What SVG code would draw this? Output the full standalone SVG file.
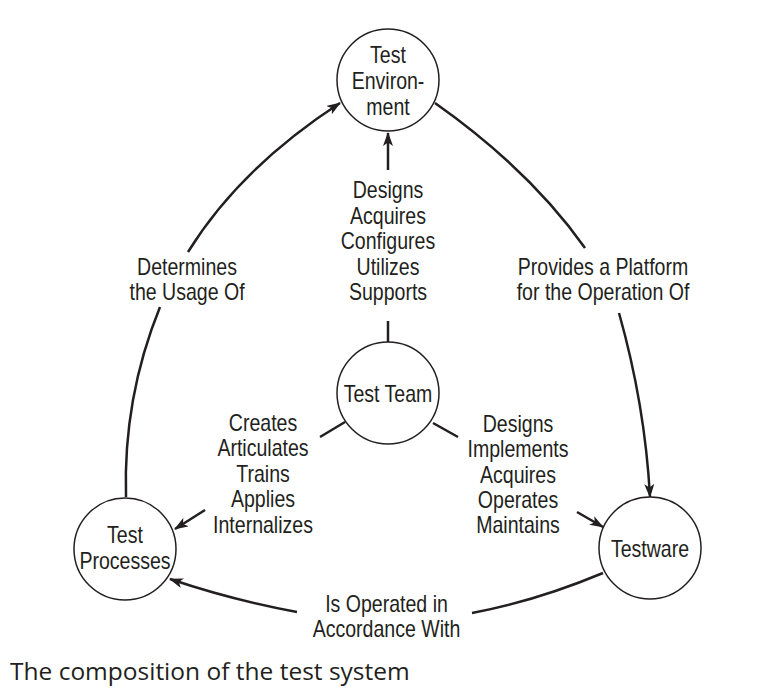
<svg xmlns="http://www.w3.org/2000/svg" width="771" height="690" viewBox="0 0 771 690">
<style>
.t{font-family:"Liberation Sans",Arial,sans-serif;font-size:23px;fill:#231f20;text-anchor:middle}
.n{fill:#fff;stroke:#231f20;stroke-width:1.5}
.c{fill:none;stroke:#231f20;stroke-width:2.5}
.cap{font-family:"Open Sans","Noto Sans",sans-serif;font-size:24.5px;fill:#231f20}
</style>
<defs>
<marker id="a" viewBox="0 0 14 10" refX="13" refY="5" markerWidth="14" markerHeight="10" markerUnits="userSpaceOnUse" orient="auto">
<path d="M0,0 L14,5 L0,10 L3.5,5 z" fill="#231f20"/>
</marker>
</defs>
<rect width="771" height="690" fill="#fff"/>
<g id="connectors">
<path class="c" d="M388,321 L388,342" stroke-width="3"/>
<path class="c" d="M388,170 L388,133" stroke-width="3" marker-end="url(#a)"/>
<path class="c" d="M126,497 Q123,398 160,307"/>
<path class="c" d="M188,252 Q240,168 340,103" marker-end="url(#a)"/>
<path class="c" d="M435,103 Q530,170 585,248"/>
<path class="c" d="M619,313 Q645,405 650,497" marker-end="url(#a)"/>
<path class="c" d="M603,573 Q536,601 472,613"/>
<path class="c" d="M297,612 Q232,600 170,579" marker-end="url(#a)"/>
<path class="c" d="M345,422 L320,437"/>
<path class="c" d="M205,510 L175,529" marker-end="url(#a)"/>
<path class="c" d="M433,423 L458,437"/>
<path class="c" d="M577,512 L603,527" marker-end="url(#a)"/>
</g>
<g id="test-environment">
<circle class="n" cx="388" cy="80" r="51"/>
<g transform="translate(388,0) scale(0.85,1)">
<text class="t" x="0" y="63">Test</text>
<text class="t" x="0" y="89">Environ-</text>
<text class="t" x="0" y="115">ment</text>
</g>
</g>
<g id="test-team">
<circle class="n" cx="388" cy="393" r="51"/>
<g transform="translate(388,0) scale(0.85,1)">
<text class="t" x="0" y="402">Test Team</text>
</g>
</g>
<g id="test-processes">
<circle class="n" cx="125" cy="549" r="51"/>
<g transform="translate(125,0) scale(0.85,1)">
<text class="t" x="0" y="543">Test</text>
<text class="t" x="0" y="569">Processes</text>
</g>
</g>
<g id="testware">
<circle class="n" cx="650" cy="548" r="51"/>
<g transform="translate(650,0) scale(0.85,1)">
<text class="t" x="0" y="557">Testware</text>
</g>
</g>
<g id="labels">
<g transform="translate(388,0) scale(0.85,1)">
<text class="t" x="0" y="198">Designs</text>
<text class="t" x="0" y="224">Acquires</text>
<text class="t" x="0" y="249.5">Configures</text>
<text class="t" x="0" y="275">Utilizes</text>
<text class="t" x="0" y="300.5">Supports</text>
</g>
<g transform="translate(187,0) scale(0.85,1)">
<text class="t" x="0" y="275">Determines</text>
<text class="t" x="0" y="300">the Usage Of</text>
</g>
<g transform="translate(603,0) scale(0.85,1)">
<text class="t" x="0" y="275">Provides a Platform</text>
<text class="t" x="0" y="300">for the Operation Of</text>
</g>
<g transform="translate(263,0) scale(0.85,1)">
<text class="t" x="0" y="431">Creates</text>
<text class="t" x="0" y="456.5">Articulates</text>
<text class="t" x="0" y="482">Trains</text>
<text class="t" x="0" y="507.5">Applies</text>
<text class="t" x="0" y="533">Internalizes</text>
</g>
<g transform="translate(518,0) scale(0.85,1)">
<text class="t" x="0" y="432">Designs</text>
<text class="t" x="0" y="457.5">Implements</text>
<text class="t" x="0" y="483">Acquires</text>
<text class="t" x="0" y="508">Operates</text>
<text class="t" x="0" y="533.5">Maintains</text>
</g>
<g transform="translate(386.5,0) scale(0.85,1)">
<text class="t" x="0" y="612">Is Operated in</text>
<text class="t" x="0" y="637">Accordance With</text>
</g>
</g>
<text class="cap" x="10" y="680">The composition of the test system</text>
</svg>
